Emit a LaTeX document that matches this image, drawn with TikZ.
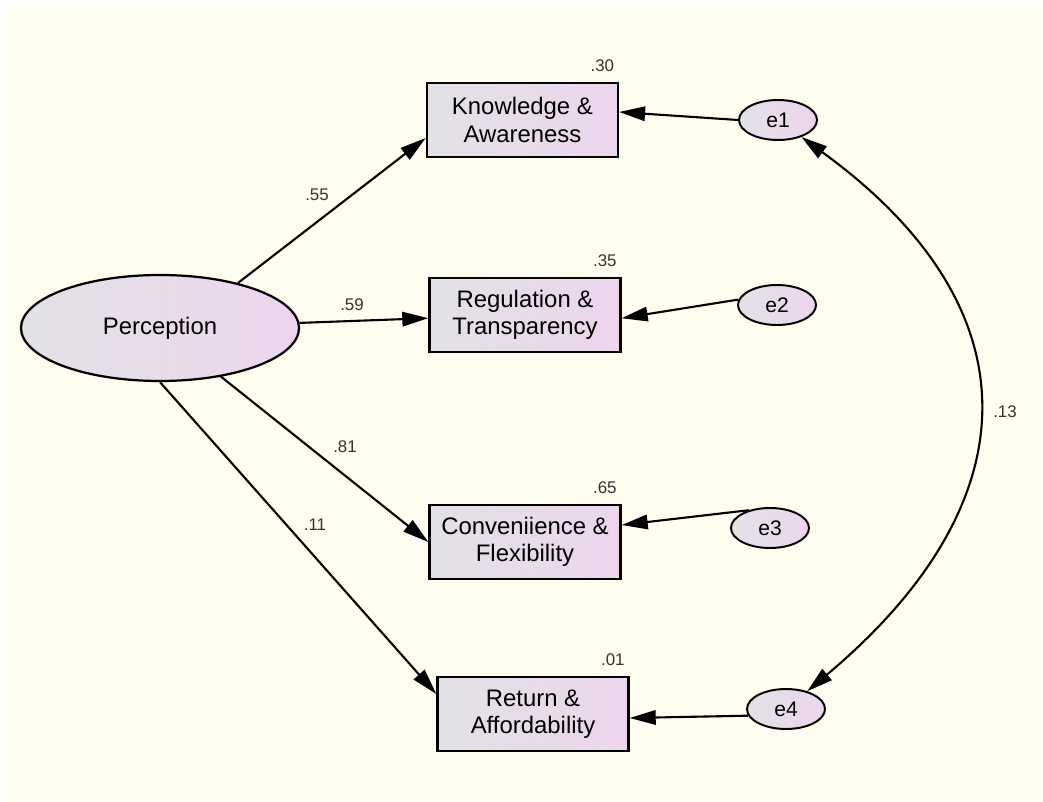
\documentclass[tikz,border=0pt]{standalone}
\usepackage{fontspec}
\setmainfont{Liberation Sans}
\usetikzlibrary{shapes.geometric,arrows.meta}

\definecolor{bgcream}{RGB}{254,253,240}
\definecolor{fillgray}{RGB}{226,226,229}
\definecolor{fillpink}{RGB}{237,213,238}

\tikzset{
  obs/.style={draw, line width=1.7pt, rectangle, minimum width=4.775cm, minimum height=1.85cm,
    inner sep=0pt, align=center, left color=fillgray, right color=fillpink,
    font=\fontsize{17}{19.5}\selectfont},
  latent/.style={draw, line width=1.6pt, ellipse, minimum width=6.95cm, minimum height=2.65cm,
    inner sep=0pt, left color=fillgray, right color=fillpink, font=\fontsize{17}{19.5}\selectfont},
  err/.style={draw, line width=1.4pt, ellipse, minimum width=1.95cm, minimum height=1.0cm,
    inner sep=0pt, left color=fillgray, right color=fillpink, font=\fontsize{15}{18}\selectfont},
  loading/.style={line width=1.5pt, -{Triangle[length=0.65cm,width=0.36cm]}},
  coef/.style={font=\fontsize{12}{14}\selectfont, text=black!80},
  rsq/.style={coef, anchor=south, inner sep=1pt},
}

\begin{document}
\begin{tikzpicture}
  % canvas
  \useasboundingbox (0,0) rectangle (26.075,20.025);
  \fill[bgcream] (0.175,-0.2) rectangle (26.3,19.85);

  % Latent factor
  \node[latent] (perc) at (4.0, 11.825) {Perception};

  % Observed indicators
  \node[obs] (know) at (13.06, 17.025) {Knowledge \&\\Awareness};
  \node[obs] (reg)  at (13.125, 12.15) {Regulation \&\\Transparency};
  \node[obs] (conv) at (13.125, 6.475) {Conveniience \&\\Flexibility};
  \node[obs] (ret)  at (13.325, 2.175) {Return \&\\Affordability};

  % Error terms
  \node[err] (e1) at (19.45, 17.025) {e1};
  \node[err] (e2) at (19.425, 12.4) {e2};
  \node[err] (e3) at (19.25, 6.825) {e3};
  \node[err] (e4) at (19.65, 2.3) {e4};

  % Squared multiple correlations
  \node[rsq] at ([xshift=-0.42cm, yshift=0.2cm]know.north east) {.30};
  \node[rsq] at ([xshift=-0.42cm, yshift=0.2cm]reg.north east) {.35};
  \node[rsq] at ([xshift=-0.42cm, yshift=0.2cm]conv.north east) {.65};
  \node[rsq] at ([xshift=-0.42cm, yshift=0.2cm]ret.north east) {.01};

  % Factor loadings
  \draw[loading] (perc.30) -- ([yshift=-0.45cm]know.west);
  \draw[loading] (perc) -- ([yshift=-0.08cm]reg.west);
  \draw[loading] (perc) -- (conv.west);
  \draw[loading] (perc.south) -- ([yshift=0.5cm]ret.west);
  \node[coef] at (7.925, 15.15) {.55};
  \node[coef] at (8.8, 12.4) {.59};
  \node[coef] at (8.625, 8.85) {.81};
  \node[coef] at (7.875, 6.9) {.11};

  % Error paths
  \draw[loading] (e1.west) -- ([yshift=0.2cm]know.east);
  \draw[loading] (e2.172) -- ([yshift=-0.08cm]reg.east);
  \draw[loading] (e3.140) -- ([yshift=0.425cm]conv.east);
  \draw[loading] (e4.190) -- ([yshift=-0.1cm]ret.east);

  % Error covariance
  \draw[line width=1.5pt, {Triangle[length=0.65cm,width=0.36cm]}-{Triangle[length=0.65cm,width=0.36cm]}]
    (e1) to[out=-36, in=40, looseness=1.35] (e4);
  \node[coef] at (25.125, 9.725) {.13};
\end{tikzpicture}
\end{document}
